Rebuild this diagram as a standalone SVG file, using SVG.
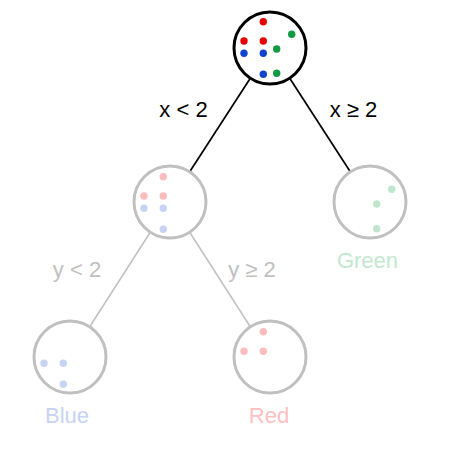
<svg xmlns="http://www.w3.org/2000/svg" width="450" height="450" viewBox="0 0 450 450">
<style>
text{font-family:"Liberation Sans",Arial,sans-serif;font-size:22px;text-anchor:middle}
.root{fill:#fff;stroke:#000;stroke-width:3}
.node{fill:#fff;stroke:#c0c0c0;stroke-width:3}
.e1{stroke:#000;stroke-width:1.7}
.e2{stroke:#c0c0c0;stroke-width:1.5}
.R{fill:#e60000}.B{fill:#1144cc}.G{fill:#119944}
.r{fill:#ffbcbc}.b{fill:#c6d3f2}.g{fill:#bfe5cd}
</style>
<g id="connectors">
<line class="e1" x1="249.8" y1="79" x2="190.2" y2="171"/>
<line class="e1" x1="290.2" y1="79" x2="349.8" y2="171"/>
<line class="e2" x1="149.8" y1="233" x2="90.2" y2="326"/>
<line class="e2" x1="190.2" y1="233" x2="249.8" y2="326"/>
<text x="183.5" y="116.5" fill="#000">x &lt; 2</text>
<text x="353.5" y="116.5" fill="#000">x ≥ 2</text>
<text x="77" y="276.5" fill="#c0c0c0">y &lt; 2</text>
<text x="252" y="276.5" fill="#c0c0c0">y ≥ 2</text>
</g>
<g id="root">
<circle class="root" cx="270" cy="48" r="36"/>
<circle class="R" cx="263.3" cy="21.7" r="3.7"/>
<circle class="R" cx="244" cy="41" r="3.7"/>
<circle class="R" cx="263.3" cy="41" r="3.7"/>
<circle class="B" cx="244" cy="53.3" r="3.7"/>
<circle class="B" cx="263.3" cy="53.3" r="3.7"/>
<circle class="B" cx="263.3" cy="74.3" r="3.7"/>
<circle class="G" cx="291.7" cy="34.3" r="3.7"/>
<circle class="G" cx="276.7" cy="49" r="3.7"/>
<circle class="G" cx="276.7" cy="73.3" r="3.7"/>
</g>
<g id="left">
<circle class="node" cx="170" cy="202" r="36"/>
<circle class="r" cx="163.3" cy="176.7" r="3.7"/>
<circle class="r" cx="144" cy="196" r="3.7"/>
<circle class="r" cx="163.3" cy="196" r="3.7"/>
<circle class="b" cx="144" cy="208.3" r="3.7"/>
<circle class="b" cx="163.3" cy="208.3" r="3.7"/>
<circle class="b" cx="163.3" cy="229.3" r="3.7"/>
</g>
<g id="green">
<circle class="node" cx="370" cy="202" r="36"/>
<circle class="g" cx="391.7" cy="189.3" r="3.7"/>
<circle class="g" cx="376.7" cy="204" r="3.7"/>
<circle class="g" cx="376.7" cy="228.7" r="3.7"/>
<text x="367.5" y="267.5" fill="#c2e8cf">Green</text>
</g>
<g id="blue">
<circle class="node" cx="70" cy="357" r="36"/>
<circle class="b" cx="44" cy="363.3" r="3.7"/>
<circle class="b" cx="63.3" cy="363.3" r="3.7"/>
<circle class="b" cx="63.3" cy="384.3" r="3.7"/>
<text x="67" y="423" fill="#c6d4f2">Blue</text>
</g>
<g id="red">
<circle class="node" cx="270" cy="357" r="36"/>
<circle class="r" cx="263.3" cy="331.7" r="3.7"/>
<circle class="r" cx="244" cy="351.3" r="3.7"/>
<circle class="r" cx="263.3" cy="351.3" r="3.7"/>
<text x="269" y="423" fill="#ffc0c0">Red</text>
</g>
</svg>
